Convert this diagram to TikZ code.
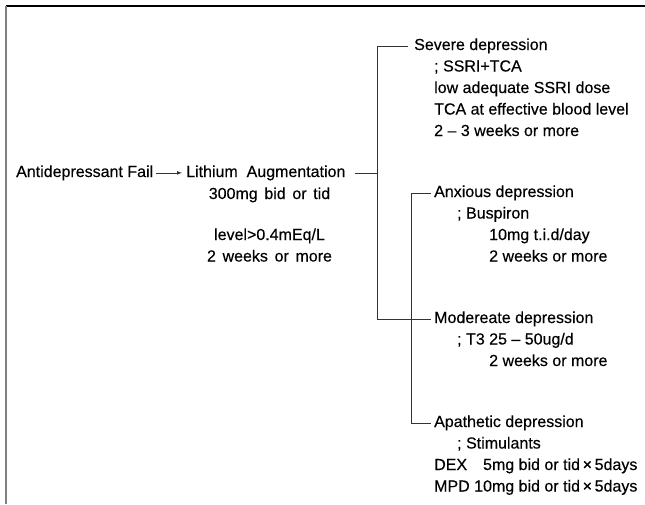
\documentclass[tikz,border=0pt]{standalone}
\usepackage{fontspec}
\setmainfont[FakeBold=0.3]{Liberation Sans}
\newfontfamily\widefont[WordSpace=1.5, FakeBold=0.3]{Liberation Sans}

\begin{document}
\begin{tikzpicture}[x = 1pt, y = -1pt,
    txt/.style = {anchor = base west, inner sep = 3pt, font = \fontsize{16}{21.5}\selectfont},
    widetxt/.style = {txt, anchor = base, font = \widefont\fontsize{16}{21.5}\selectfont},
    link/.style = {draw = black!80, line width = 0.7pt}]
      \useasboundingbox (0, 0) rectangle (645, 504);

      \draw [black, line width = 1.2pt] (6, 6) -- (645, 6);
      \draw [black!50, line width = 2pt] (6, 6) -- (6, 504);

      \node [txt] (fail) at (13, 177) {Antidepressant Fail};
      \node [txt] (lith) at (183, 177) {Lithium\ \ Augmentation};
      \node [widetxt] (lithdose) at (269.5, 199) {300mg bid or tid};
      \node [widetxt] (lithlevel) at (269.5, 240) {level>0.4mEq/L};
      \node [widetxt] (lithdur) at (269.5, 261.5) {2 weeks or more};
      \draw [link, -latex, shorten > = 1pt] (fail.east) -- (fail.east -| lith.west);

      \node [txt] (sev) at (411, 50) {Severe depression};
      \node [txt] (sevdrug) at (431, 71.5) {; SSRI+TCA};
      \node [txt] (sevssri) at (431, 93) {low adequate SSRI dose};
      \node [txt] (sevtca) at (431, 114.5) {TCA at effective blood level};
      \node [txt] (sevdur) at (431, 136) {2 – 3 weeks or more};

      \node [txt] (anx) at (431, 197) {Anxious depression};
      \node [txt] (anxdrug) at (454, 218.5) {; Buspiron};
      \node [txt] (anxdose) at (486, 240) {10mg t.i.d/day};
      \node [txt] (anxdur) at (486, 261.5) {2 weeks or more};

      \node [txt] (mod) at (431, 323) {Modereate depression};
      \node [txt] (moddrug) at (454, 344.5) {; T3 25 – 50ug/d};
      \node [txt] (moddur) at (486, 366) {2 weeks or more};

      \node [txt] (apa) at (431, 427) {Apathetic depression};
      \node [txt] (apadrug) at (454, 448.5) {; Stimulants};
      \node [txt] (apadex) at (431, 470) {DEX\quad 5mg bid or tid\,×\,5days};
      \node [txt] (apampd) at (431, 491.5) {MPD 10mg bid or tid\,×\,5days};

      % brackets
      \coordinate (brA) at (377, 0);
      \coordinate (brB) at (411, 0);
      \draw [link, shorten < = 6pt] (lith.east) -- (lith.east -| brA);
      \draw [link, shorten < = 3pt] (sev.west) -| (brA |- mod.west) -- (mod.west);
      \draw [link] (anx.west) -| (brB |- apa.west) -- (apa.west);
    \end{tikzpicture}
\end{document}
